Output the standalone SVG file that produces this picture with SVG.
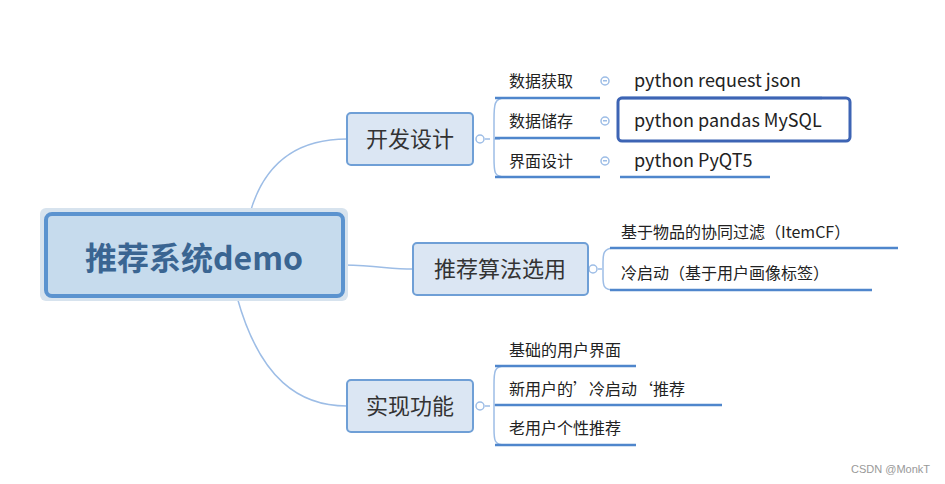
<svg xmlns="http://www.w3.org/2000/svg" width="945" height="484" viewBox="0 0 945 484">
<style>
.t{font-family:"Noto Sans CJK SC","Liberation Sans",sans-serif;fill:#222}
.s{font-size:16px}
.p{font-size:18px}
.m{font-size:22px;fill:#333}
.r{font-size:32px;font-weight:bold;fill:#3a6592}
.box{fill:#dbe6f3;stroke:#6f9fd6;stroke-width:2}
.ln{fill:none;stroke:#9dbde6;stroke-width:1.5}
.ul{stroke:#4f86cc;stroke-width:2.5}
.ic{fill:none;stroke:#9dbde6;stroke-width:1.5}
</style>
<rect width="945" height="484" fill="#fff"/>
<g id="connectors">
<path class="ln" d="M250 213 C265 160,300 139,347 139"/>
<path class="ln" d="M344 265 C380 266,390 269,413 269"/>
<path class="ln" d="M237 297 C260 380,300 406,347 406"/>
<path class="ln" d="M485 139 H490 M505 98 C494 98,494 105,494 120 V158 C494 172,494 177,505 177 M494 139 H500"/>
<path class="ln" d="M598 269 H602 M614 248 C603 248,603 255,603 262 V276 C603 285,603 290,614 290"/>
<path class="ln" d="M485 406 H490 M505 366 C494 366,494 372,494 385 V428 C494 440,494 445,505 445 M494 405 H500"/>
<circle class="ic" cx="480" cy="139" r="4"/>
<circle class="ic" cx="593" cy="269" r="4"/>
<circle class="ic" cx="480" cy="406" r="4"/>
<g class="ic"><circle cx="605" cy="81" r="4"/><circle cx="605" cy="121" r="4"/><circle cx="605" cy="161" r="4"/></g>
<g fill="#9dbde6"><rect x="603" y="80" width="4" height="1.5"/><rect x="603" y="120" width="4" height="1.5"/><rect x="603" y="160" width="4" height="1.5"/></g>
</g>
<g id="root">
<rect x="40" y="208" width="308" height="93" rx="6" fill="#d7e3ee"/>
<rect x="46" y="214" width="297" height="82" rx="6" fill="#c6dbed" stroke="#5b93cf" stroke-width="4"/>
<text class="t r" x="194" y="270" text-anchor="middle">推荐系统demo</text>
</g>
<g id="dev">
<rect class="box" x="347" y="113" width="126" height="52" rx="4"/>
<text class="t m" x="410" y="147" text-anchor="middle">开发设计</text>
</g>
<g id="dev1"><text class="t s" x="509" y="87">数据获取</text><line class="ul" x1="495" y1="98" x2="600" y2="98"/></g>
<g id="dev2"><text class="t s" x="509" y="127">数据储存</text><line class="ul" x1="495" y1="138" x2="600" y2="138"/></g>
<g id="dev3"><text class="t s" x="509" y="167">界面设计</text><line class="ul" x1="495" y1="177" x2="600" y2="177"/></g>
<g id="dev1a"><text class="t p" x="634" y="87">python request json</text><line class="ul" x1="620" y1="98" x2="822" y2="98"/></g>
<g id="dev2a"><rect x="618" y="98" width="232" height="43" rx="4" fill="none" stroke="#3d64b4" stroke-width="3"/><text class="t p" x="634" y="127">python pandas MySQL</text></g>
<g id="dev3a"><text class="t p" x="634" y="167">python PyQT5</text><line class="ul" x1="620" y1="177" x2="770" y2="177"/></g>
<g id="algo">
<rect class="box" x="413" y="243" width="175" height="52" rx="4"/>
<text class="t m" x="500" y="277" text-anchor="middle">推荐算法选用</text>
</g>
<g id="algo1"><text class="t s" x="621" y="238">基于物品的协同过滤（ItemCF）</text><line class="ul" x1="610" y1="248" x2="898" y2="248"/></g>
<g id="algo2"><text class="t s" x="621" y="279">冷启动（基于用户画像标签）</text><line class="ul" x1="610" y1="290" x2="872" y2="290"/></g>
<g id="func">
<rect class="box" x="347" y="380" width="126" height="52" rx="4"/>
<text class="t m" x="410" y="414" text-anchor="middle">实现功能</text>
</g>
<g id="func1"><text class="t s" x="509" y="356">基础的用户界面</text><line class="ul" x1="495" y1="366" x2="636" y2="366"/></g>
<g id="func2"><text class="t s" x="509" y="395">新用户的’冷启动‘推荐</text><line class="ul" x1="495" y1="405" x2="722" y2="405"/></g>
<g id="func3"><text class="t s" x="509" y="434">老用户个性推荐</text><line class="ul" x1="495" y1="445" x2="636" y2="445"/></g>
<text x="930" y="473" text-anchor="end" font-family="Liberation Sans,sans-serif" font-size="11" fill="#999">CSDN @MonkT</text>
</svg>
